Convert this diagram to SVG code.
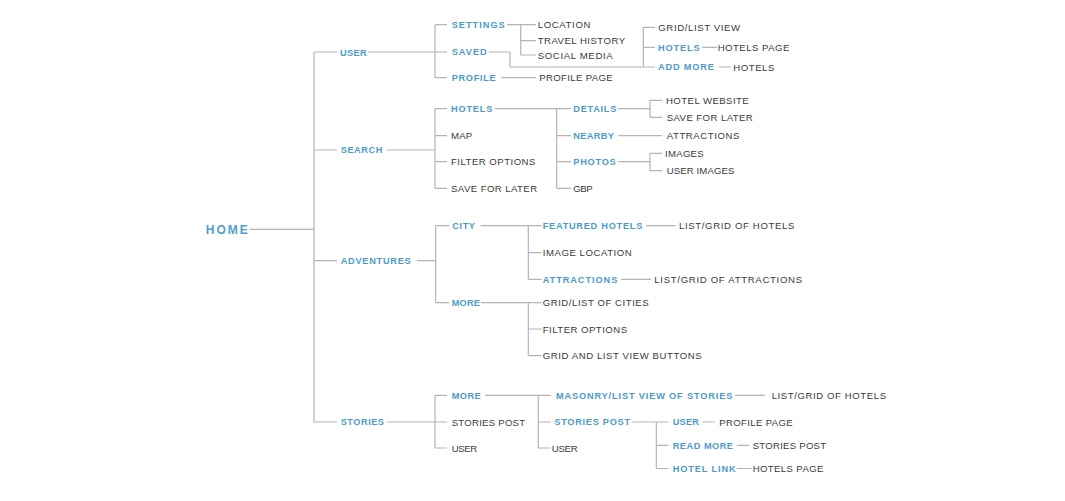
<svg xmlns="http://www.w3.org/2000/svg" width="1065" height="501" viewBox="0 0 1065 501">
<style>
.c{fill:none;stroke:#b4b4b4;stroke-width:1.2}
text{font-family:"Liberation Sans",Arial,sans-serif}
.r{font-size:9.6px;fill:#3a3a3a;letter-spacing:0.6px}
.b{font-size:9.2px;font-weight:bold;fill:#4a9bcb;letter-spacing:1px}
.h{font-size:12px;font-weight:bold;fill:#4f9fcd;letter-spacing:1.5px}
</style>
<rect width="1065" height="501" fill="#ffffff"/>
<g id="connectors">
<path class="c" d="M250,229.3H314M314,52V422H337M314,52H337M314,150H337M314,260.7H337"/>
<path class="c" d="M368,52H447M435,24.7V77.7M435,24.7H447M435,77.7H447"/>
<path class="c" d="M507,24.7H536M520.7,24.7V55M520.7,40.7H536M520.7,55H536"/>
<path class="c" d="M489,52H510V67H655M643.3,27.3V67M643.3,27.3H655M643.3,47.3H655"/>
<path class="c" d="M702,47.3H717M719,67H731M501,77.7H536"/>
<path class="c" d="M386.7,150H435M435,108.7V188.3M435,108.7H447M435,135.7H447M435,161.7H447M435,188.3H447"/>
<path class="c" d="M495,108.7H571M556.7,108.7V188.3M556.7,135.7H571M556.7,161.7H571M556.7,188.3H571"/>
<path class="c" d="M618,108.7H650M650,100.3V117.3M650,100.3H662M650,117.3H662"/>
<path class="c" d="M618.3,135.7H662"/>
<path class="c" d="M618,161.7H650M650,153.3V170.7M650,153.3H662M650,170.7H662"/>
<path class="c" d="M416.7,260.7H435.7M435.7,225.7V302.7M435.7,225.7H449.3M435.7,302.7H449.3"/>
<path class="c" d="M480.7,225.7H541.7M528.3,225.7V279.3M528.3,252.7H541.7M528.3,279.3H541.7"/>
<path class="c" d="M481,302.7H541.7M528.3,302.7V355.7M528.3,329H541.7M528.3,355.7H541.7"/>
<path class="c" d="M646,225.7H675.7M621,279.3H651"/>
<path class="c" d="M387.3,422H447M435,395.3V448M435,395.3H447M435,448H447"/>
<path class="c" d="M485,395.3H550.7M538.3,395.3V448M538.3,422H550.7M538.3,448H550.7"/>
<path class="c" d="M735,395.3H765"/>
<path class="c" d="M632.3,422H668.3M656.3,422V468.5M656.3,445.3H668.3M656.3,468.5H668.3"/>
<path class="c" d="M702.3,422H715M736.7,445.3H749.3M737,468.5H751.7"/>
</g>
<g id="home"><text class="h" x="205.7" y="233.6" textLength="43.6" lengthAdjust="spacing">HOME</text></g>
<g id="user"><text class="b" x="340" y="55.6" textLength="27.7" lengthAdjust="spacing">USER</text></g>
<g id="settings"><text class="b" x="451.7" y="28" textLength="54" lengthAdjust="spacing">SETTINGS</text></g>
<g id="location"><text class="r" x="537.7" y="28" textLength="53.3" lengthAdjust="spacing">LOCATION</text></g>
<g id="travel-history"><text class="r" x="537.7" y="44.2" textLength="88" lengthAdjust="spacing">TRAVEL HISTORY</text></g>
<g id="social-media"><text class="r" x="537.7" y="58.5" textLength="75.6" lengthAdjust="spacing">SOCIAL MEDIA</text></g>
<g id="saved"><text class="b" x="451.7" y="55.3" textLength="36" lengthAdjust="spacing">SAVED</text></g>
<g id="grid-list-view"><text class="r" x="658.3" y="30.8" textLength="82.4" lengthAdjust="spacing">GRID/LIST VIEW</text></g>
<g id="saved-hotels"><text class="b" x="658" y="50.6" textLength="42.7" lengthAdjust="spacing">HOTELS</text></g>
<g id="saved-hotels-page"><text class="r" x="717.7" y="50.8" textLength="72.3" lengthAdjust="spacing">HOTELS PAGE</text></g>
<g id="add-more"><text class="b" x="658" y="70.3" textLength="57" lengthAdjust="spacing">ADD MORE</text></g>
<g id="add-more-hotels"><text class="r" x="733.3" y="70.5" textLength="41.7" lengthAdjust="spacing">HOTELS</text></g>
<g id="profile"><text class="b" x="451.7" y="81" textLength="45" lengthAdjust="spacing">PROFILE</text></g>
<g id="profile-page"><text class="r" x="539.3" y="81.2" textLength="74" lengthAdjust="spacing">PROFILE PAGE</text></g>
<g id="search"><text class="b" x="340.7" y="153.3" textLength="42.6" lengthAdjust="spacing">SEARCH</text></g>
<g id="search-hotels"><text class="b" x="451" y="112" textLength="42.3" lengthAdjust="spacing">HOTELS</text></g>
<g id="map"><text class="r" x="451" y="139.2" textLength="21.7" lengthAdjust="spacing">MAP</text></g>
<g id="filter-options"><text class="r" x="451" y="165.2" textLength="85" lengthAdjust="spacing">FILTER OPTIONS</text></g>
<g id="save-for-later"><text class="r" x="451" y="192.2" textLength="86.7" lengthAdjust="spacing">SAVE FOR LATER</text></g>
<g id="details"><text class="b" x="573.3" y="112" textLength="44" lengthAdjust="spacing">DETAILS</text></g>
<g id="nearby"><text class="b" x="573.3" y="139" textLength="41.7" lengthAdjust="spacing">NEARBY</text></g>
<g id="photos"><text class="b" x="573.3" y="165" textLength="43.4" lengthAdjust="spacing">PHOTOS</text></g>
<g id="gbp"><text class="r" x="573.3" y="191.8" textLength="20" lengthAdjust="spacing">GBP</text></g>
<g id="hotel-website"><text class="r" x="666" y="104" textLength="83.3" lengthAdjust="spacing">HOTEL WEBSITE</text></g>
<g id="details-save-for-later"><text class="r" x="666.7" y="120.8" textLength="86.7" lengthAdjust="spacing">SAVE FOR LATER</text></g>
<g id="nearby-attractions"><text class="r" x="666.7" y="139.2" textLength="73.3" lengthAdjust="spacing">ATTRACTIONS</text></g>
<g id="images"><text class="r" x="665" y="156.8" textLength="39.3" lengthAdjust="spacing">IMAGES</text></g>
<g id="user-images"><text class="r" x="666.7" y="174.2" textLength="68.3" lengthAdjust="spacing">USER IMAGES</text></g>
<g id="adventures"><text class="b" x="340.7" y="264" textLength="71" lengthAdjust="spacing">ADVENTURES</text></g>
<g id="city"><text class="b" x="452.3" y="229" textLength="23.7" lengthAdjust="spacing">CITY</text></g>
<g id="adv-more"><text class="b" x="451.7" y="306" textLength="29.3" lengthAdjust="spacing">MORE</text></g>
<g id="featured-hotels"><text class="b" x="542.7" y="229" textLength="100.6" lengthAdjust="spacing">FEATURED HOTELS</text></g>
<g id="list-grid-hotels"><text class="r" x="679" y="229.2" textLength="116" lengthAdjust="spacing">LIST/GRID OF HOTELS</text></g>
<g id="image-location"><text class="r" x="542.7" y="256.2" textLength="89.6" lengthAdjust="spacing">IMAGE LOCATION</text></g>
<g id="city-attractions"><text class="b" x="542.7" y="282.6" textLength="75.6" lengthAdjust="spacing">ATTRACTIONS</text></g>
<g id="list-grid-attractions"><text class="r" x="654.3" y="282.8" textLength="148.4" lengthAdjust="spacing">LIST/GRID OF ATTRACTIONS</text></g>
<g id="grid-list-cities"><text class="r" x="542.7" y="306.2" textLength="106.6" lengthAdjust="spacing">GRID/LIST OF CITIES</text></g>
<g id="adv-filter-options"><text class="r" x="542.7" y="332.5" textLength="85" lengthAdjust="spacing">FILTER OPTIONS</text></g>
<g id="grid-list-buttons"><text class="r" x="542.7" y="359.2" textLength="159.6" lengthAdjust="spacing">GRID AND LIST VIEW BUTTONS</text></g>
<g id="stories"><text class="b" x="340.7" y="425.3" textLength="44.3" lengthAdjust="spacing">STORIES</text></g>
<g id="stories-more"><text class="b" x="451.7" y="398.6" textLength="30" lengthAdjust="spacing">MORE</text></g>
<g id="stories-post"><text class="r" x="451.7" y="425.5" textLength="74" lengthAdjust="spacing">STORIES POST</text></g>
<g id="stories-user"><text class="r" x="451.7" y="451.5" textLength="26" lengthAdjust="spacing">USER</text></g>
<g id="masonry"><text class="b" x="556" y="398.6" textLength="177.3" lengthAdjust="spacing">MASONRY/LIST VIEW OF STORIES</text></g>
<g id="masonry-list-grid"><text class="r" x="771.7" y="398.8" textLength="115" lengthAdjust="spacing">LIST/GRID OF HOTELS</text></g>
<g id="more-stories-post"><text class="b" x="554.3" y="425.3" textLength="76.7" lengthAdjust="spacing">STORIES POST</text></g>
<g id="more-user"><text class="r" x="551.7" y="451.5" textLength="26.6" lengthAdjust="spacing">USER</text></g>
<g id="post-user"><text class="b" x="672.7" y="425.3" textLength="27.3" lengthAdjust="spacing">USER</text></g>
<g id="post-profile-page"><text class="r" x="719.3" y="425.5" textLength="74" lengthAdjust="spacing">PROFILE PAGE</text></g>
<g id="read-more"><text class="b" x="672.7" y="448.6" textLength="61.3" lengthAdjust="spacing">READ MORE</text></g>
<g id="read-more-post"><text class="r" x="752.7" y="448.8" textLength="74" lengthAdjust="spacing">STORIES POST</text></g>
<g id="hotel-link"><text class="b" x="672.7" y="471.8" textLength="64" lengthAdjust="spacing">HOTEL LINK</text></g>
<g id="hotel-link-page"><text class="r" x="752.7" y="472" textLength="71.3" lengthAdjust="spacing">HOTELS PAGE</text></g>
</svg>
